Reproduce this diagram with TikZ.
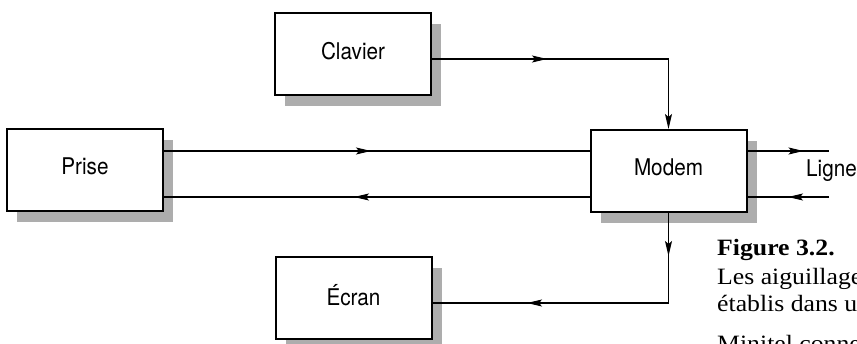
\documentclass[tikz,border=0pt]{standalone}
\usepackage{fontspec}
\newfontfamily\boxfont[FakeStretch=0.9]{TeX Gyre Heros}
\newfontfamily\capfont[FakeStretch=1.1]{Liberation Serif}
\usetikzlibrary{arrows.meta,decorations.markings,shadows}

\tikzset{
  arr/.tip={Stealth[length=15pt,width=7pt,inset=3pt]},
  box/.style={draw, line width=2pt, fill=white,
    minimum width=156pt, minimum height=82pt, inner sep=0pt,
    font=\boxfont\fontsize{23}{26}\selectfont, text depth=7pt,
    drop shadow={shadow xshift=10pt, shadow yshift=-11pt,
      fill=black!32, opacity=1}},
  wire/.style={line width=1.1pt},
  arrowat/.style={postaction={decorate},
    decoration={markings, mark=at position #1 with {\arrow{arr}}}},
  captext/.style={anchor=base west, inner sep=0pt,
    font=\capfont\fontsize{23.4}{28}\selectfont},
}

\begin{document}
\begin{tikzpicture}[x=1pt,y=1pt]
  \useasboundingbox (0,0) rectangle (857,343);
  \clip (0,0) rectangle (857,343);
  \fill[white] (0,0) rectangle (857,343);

  % blocks
  \node[box] (Prise)   at (85,173)    {Prise};
  \node[box] (Clavier) at (353,289)   {Clavier};
  \node[box] (Ecran)   at (353.5,45)  {Écran};
  \node[box] (Modem)   at (668.5,172) {Modem};

  % heights of the wires
  \coordinate (up)   at (0,192);
  \coordinate (dn)   at (0,146);
  \coordinate (clav) at (0,284);
  \coordinate (ecr)  at (0,40);
  \coordinate (lout) at (829,192);
  \coordinate (lin)  at (829,146);

  % Prise <-> Modem
  \draw[wire, arrowat=207pt] (Prise.east |- up) -- (Modem.west |- up);
  \draw[wire, arrowat=235.5pt] (Modem.west |- dn) -- (Prise.east |- dn);

  % Clavier -> Modem
  \draw[wire, arrowat=115pt, -arr] (Clavier.east |- clav) -| (Modem.north);

  % Modem -> Ecran
  \draw[wire, postaction={decorate}, decoration={markings,
      mark=at position 43pt with {\arrow{arr}},
      mark=at position 231.5pt with {\arrow{arr}}}]
    (Modem.south) |- (Ecran.east |- ecr);

  % line side
  \draw[wire, arrowat=56pt] (Modem.east |- up) -- (lout);
  \draw[wire, arrowat=41pt] (lin) -- (Modem.east |- dn);
  \node[anchor=west, inner sep=0pt, font=\boxfont\fontsize{23}{26}\selectfont]
    (Ligne) at (806,172) {Ligne};

  % caption
  \node[captext, font=\capfont\bfseries\fontsize{23.4}{28}\selectfont]
    (fig) at (717,87.5) {Figure 3.2.};
  \node[captext] (c1) at (717,59) {Les aiguillages};
  \node[captext] (c2) at (717,32) {établis dans un};
  \node[captext] (c3) at (717,-8) {Minitel connecté};
\end{tikzpicture}
\end{document}
